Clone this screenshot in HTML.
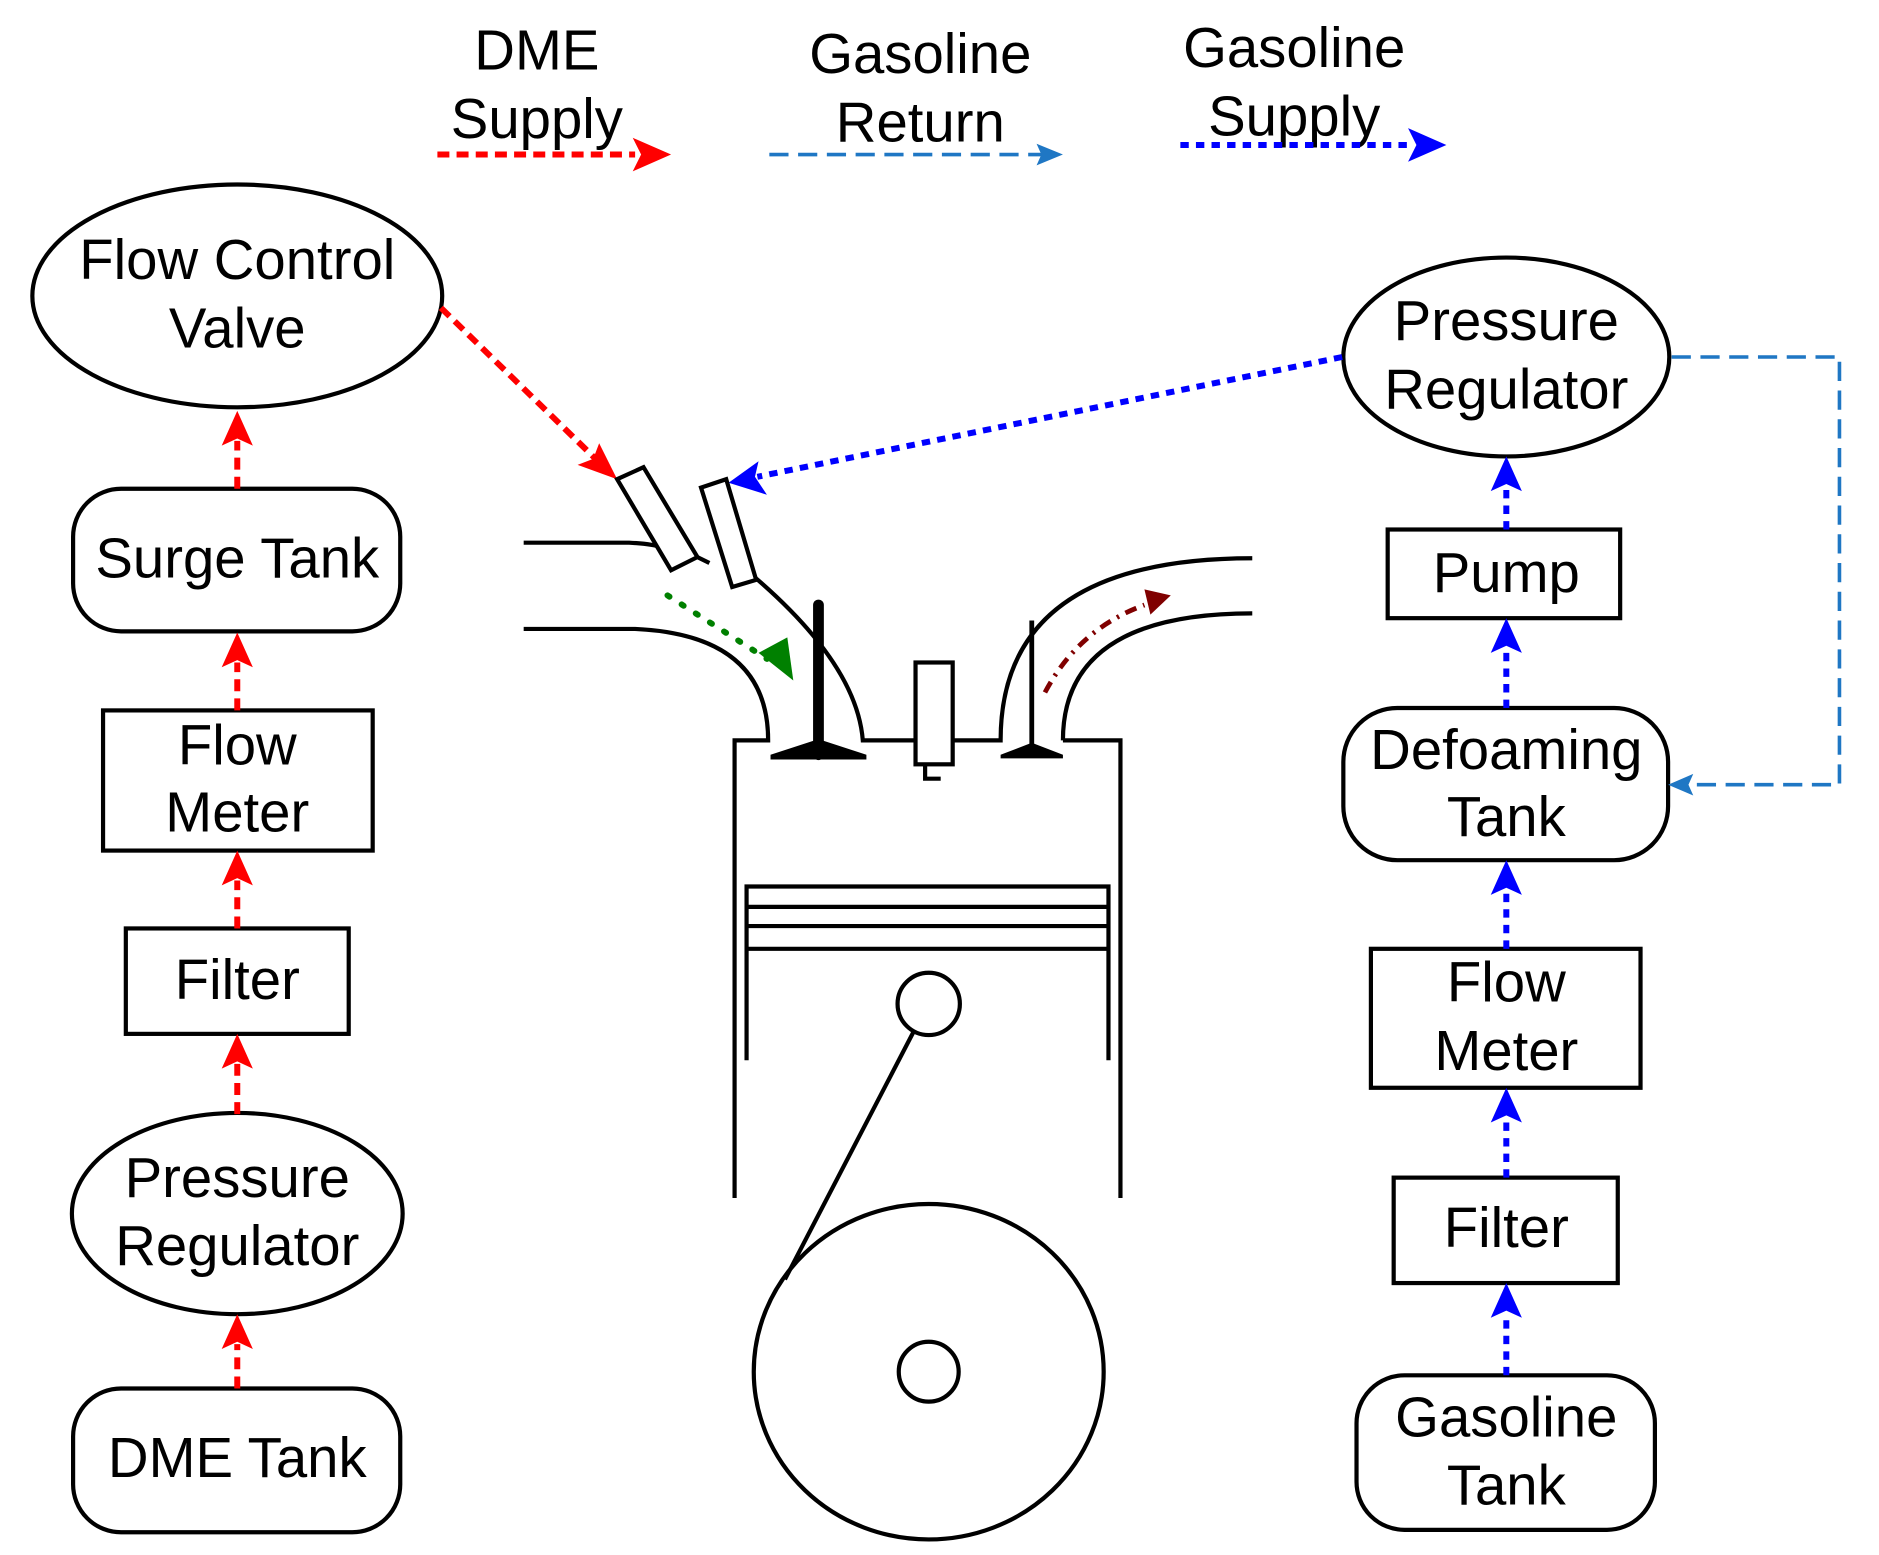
<!DOCTYPE html>
<html><head><meta charset="utf-8"><style>html,body{margin:0;padding:0;background:#fff}svg{display:block}</style></head><body>
<svg width="1879" height="1555" viewBox="0 0 1568 1298" preserveAspectRatio="none" xmlns="http://www.w3.org/2000/svg" font-family="Liberation Sans, Arial, sans-serif" font-size="47" text-anchor="middle">
<g fill="none" stroke="#000" stroke-width="3.5">
<ellipse cx="198" cy="247" rx="171" ry="93"/>
<rect x="61" y="408" width="273" height="119" rx="40"/>
<rect x="86" y="593" width="225" height="117"/>
<rect x="105" y="775" width="186" height="88"/>
<ellipse cx="198" cy="1013" rx="138" ry="84"/>
<rect x="61" y="1159" width="273" height="120" rx="40"/>
<ellipse cx="1257" cy="298" rx="136" ry="83"/>
<rect x="1158" y="442" width="194" height="74"/>
<rect x="1121" y="591" width="271" height="127" rx="45"/>
<rect x="1144" y="792" width="225" height="116"/>
<rect x="1163" y="983" width="187" height="88"/>
<rect x="1132" y="1148" width="249" height="129" rx="40"/>
</g>
<g fill="#000">
<text x="198" y="233">Flow Control</text><text x="198" y="290">Valve</text>
<text x="198" y="482">Surge Tank</text>
<text x="198" y="638">Flow</text><text x="198" y="694">Meter</text>
<text x="198" y="834">Filter</text>
<text x="198" y="999">Pressure</text><text x="198" y="1056">Regulator</text>
<text x="198" y="1233">DME Tank</text>
<text x="1257" y="284">Pressure</text><text x="1257" y="341">Regulator</text>
<text x="1257" y="494">Pump</text>
<text x="1257" y="642">Defoaming</text><text x="1257" y="698">Tank</text>
<text x="1257" y="836">Flow</text><text x="1257" y="893">Meter</text>
<text x="1257" y="1041">Filter</text>
<text x="1257" y="1199">Gasoline</text><text x="1257" y="1256">Tank</text>
<text x="448" y="58">DME</text><text x="448" y="115">Supply</text>
<text x="768" y="61">Gasoline</text><text x="768" y="118">Return</text>
<text x="1080" y="56">Gasoline</text><text x="1080" y="113">Supply</text>
</g>
<g stroke="#ff0000" stroke-width="5" stroke-dasharray="10,6" fill="none">
<line x1="198" y1="408" x2="198" y2="368"/><line x1="198" y1="593" x2="198" y2="553"/>
<line x1="198" y1="775" x2="198" y2="735"/><line x1="198" y1="930" x2="198" y2="888"/>
<line x1="198" y1="1159" x2="198" y2="1122"/>
<line x1="365" y1="129" x2="530" y2="129"/>
<line x1="368" y1="257" x2="497" y2="383"/>
</g>
<g fill="#ff0000">
<path d="M198,343 L185,372 L198,366 L211,372z"/><path d="M198,528 L185,557 L198,551 L211,557z"/>
<path d="M198,710 L185,739 L198,733 L211,739z"/><path d="M198,863 L185,892 L198,886 L211,892z"/>
<path d="M198,1097 L185,1126 L198,1120 L211,1126z"/>
<path d="M560,129 L528,115 L535,129 L528,143z"/>
<path d="M515,400 L482,388 L495,383 L500,370z"/>
</g>
<g stroke="#0000ff" stroke-width="5" stroke-dasharray="7,6" fill="none">
<line x1="1257" y1="442" x2="1257" y2="405"/><line x1="1257" y1="591" x2="1257" y2="542"/>
<line x1="1257" y1="792" x2="1257" y2="745"/><line x1="1257" y1="983" x2="1257" y2="935"/>
<line x1="1257" y1="1148" x2="1257" y2="1098"/>
<line x1="985" y1="121" x2="1180" y2="121"/>
<line x1="1120" y1="298" x2="632" y2="398"/>
</g>
<g fill="#0000ff">
<path d="M1257,381 L1244,410 L1257,404 L1270,410z"/><path d="M1257,516 L1244,545 L1257,539 L1270,545z"/>
<path d="M1257,718 L1244,747 L1257,741 L1270,747z"/><path d="M1257,908 L1244,937 L1257,931 L1270,937z"/>
<path d="M1257,1071 L1244,1100 L1257,1094 L1270,1100z"/>
<path d="M1207,121 L1175,107 L1182,121 L1175,135z"/>
<path d="M608,403 L633,385 L630,398 L640,413z"/>
</g>
<g stroke="#1f77c4" stroke-width="3" stroke-dasharray="16,8" fill="none">
<polyline points="1395,298 1535,298 1535,655 1410,655"/>
<line x1="642" y1="129" x2="870" y2="129"/>
</g>
<g fill="#1f77c4"><path d="M1392,655 L1413,646 L1409,655 L1413,664z"/><path d="M887,129 L865,120 L869,129 L865,138z"/></g>
<g fill="none" stroke="#000" stroke-width="3.5">
<path d="M437,453 L525,453 Q545,454 552,457"/>
<path d="M437,525 L530,525 Q641,530 641,618 L613,618 L613,1000"/>
<path d="M630,482 Q715,555 720,618 L764,618"/>
<path d="M795,618 L835,618 Q835,466 1045,466"/>
<path d="M887,618 Q887,512 1045,512"/>
<path d="M887,618 L935,618 L935,1000"/>
<path d="M515,400 L537,390 L582,465 L560,476z" fill="#fff"/>
<path d="M582,465 L592,470"/>
<path d="M585,407 L606,400 L631,484 L611,490z" fill="#fff"/>
<rect x="764" y="553" width="31" height="85" fill="#fff"/>
<path d="M772,638 L772,650 L785,650"/>
<path d="M623,885 L623,740 L925,740 L925,885"/>
<line x1="623" y1="757" x2="925" y2="757"/><line x1="623" y1="773" x2="925" y2="773"/><line x1="623" y1="792" x2="925" y2="792"/>
<circle cx="775" cy="838" r="26"/>
<ellipse cx="775" cy="1145" rx="146" ry="140"/>
<circle cx="775" cy="1145" r="25"/>
<line x1="763" y1="860" x2="655" y2="1068"/>
</g>
<line x1="683" y1="505" x2="683" y2="630" stroke="#000" stroke-width="9" stroke-linecap="round"/>
<path d="M643,630 L683,617 L723,630 L723,634 L643,634z" fill="#000"/>
<line x1="861" y1="518" x2="861" y2="628" stroke="#000" stroke-width="4"/>
<path d="M835,630 L861,620 L887,630 L887,633 L835,633z" fill="#000"/>
<path d="M557,497 L640,550" stroke="#008000" stroke-width="5" stroke-dasharray="2,12" stroke-linecap="round" fill="none"/>
<path d="M662,568 L633,545 L657,532z" fill="#008000"/>
<path d="M872,578 Q900,525 955,505" stroke="#800000" stroke-width="4" stroke-dasharray="10,6,2,6" fill="none"/>
<path d="M977,497 L955,492 L960,513z" fill="#800000"/>
</svg>
</body></html>
